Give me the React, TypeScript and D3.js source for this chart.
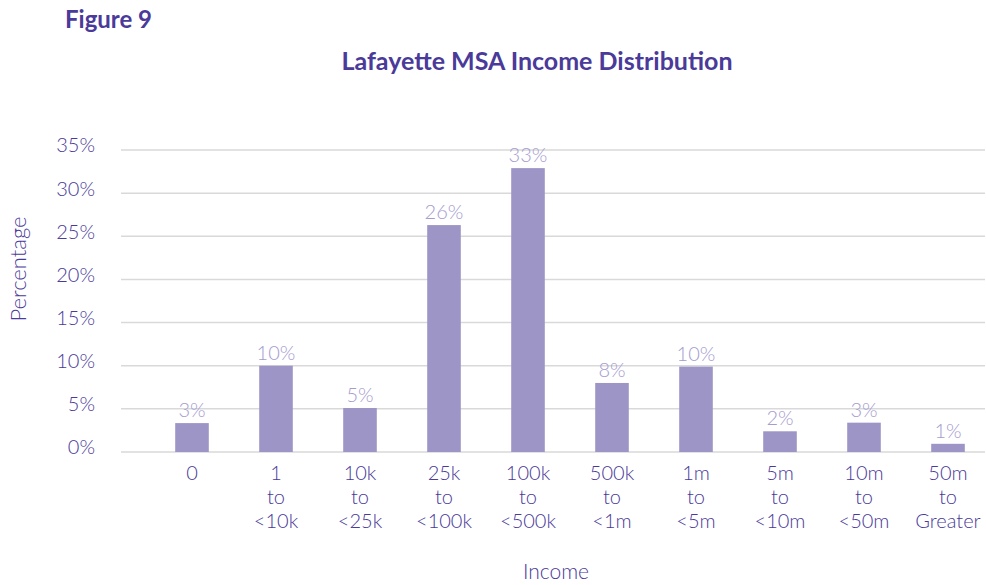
import React from "react";
import * as d3 from "d3";

const categories = ["0", "1 to <10k", "10k to <25k", "25k to <100k", "100k to <500k", "500k to <1m", "1m to <5m", "5m to <10m", "10m to <50m", "50m to Greater"];
const tickLines = [
  ["0"],
  ["1", "to", "<10k"],
  ["10k", "to", "<25k"],
  ["25k", "to", "<100k"],
  ["100k", "to", "<500k"],
  ["500k", "to", "<1m"],
  ["1m", "to", "<5m"],
  ["5m", "to", "<10m"],
  ["10m", "to", "<50m"],
  ["50m", "to", "Greater"],
];
const values = [3.35, 10.0, 5.1, 26.3, 32.9, 8.0, 9.9, 2.4, 3.4, 0.95];
const valueLabels = ["3%", "10%", "5%", "26%", "33%", "8%", "10%", "2%", "3%", "1%"];
const yTicks = [0, 5, 10, 15, 20, 25, 30, 35];

const W = 986;
const H = 585;
const FONT = "'Lato', 'DejaVu Sans', sans-serif";
const DARK = "#4a3a99";
const BAR = "#9e95c7";
const LABEL = "#a49ccf";
const GRID = "#d9d9d9";

export default function App() {
  const x = d3.scaleBand<string>().domain(categories).range([150, 990]).paddingInner(0.6).paddingOuter(0.3);
  const y = d3.scaleLinear().domain([0, 35]).range([452, 150]);
  const gridX0 = 121;
  const gridX1 = 985;
  const cx = (c: string) => (x(c) ?? 0) + x.bandwidth() / 2;

  return (
    <svg width={W} height={H} style={{ position: "absolute", left: 0, top: 0, background: "#fff" }} fontFamily={FONT}>
      <text x={65} y={28} fontSize={24} fontWeight={700} fill={DARK}>Figure 9</text>
      <text x={537} y={70} fontSize={25} fontWeight={700} fill={DARK} textAnchor="middle">Lafayette MSA Income Distribution</text>

      {/* grid + y ticks */}
      {yTicks.map((t) => (
        <g key={t}>
          <line x1={gridX0} x2={gridX1} y1={y(t)} y2={y(t)} stroke={GRID} strokeWidth={1.5} />
          <text x={95} y={y(t)} dy="0.12em" fontSize={20} fill={DARK} textAnchor="end" fontWeight={300}>{t}%</text>
        </g>
      ))}

      {/* bars */}
      {categories.map((c, i) => (
        <g key={c}>
          <rect x={x(c)} y={y(values[i])} width={x.bandwidth()} height={y(0) - y(values[i])} fill={BAR} />
          <text x={cx(c)} y={y(values[i]) - 6} fontSize={20} fill={LABEL} textAnchor="middle" fontWeight={300}>
            {valueLabels[i]}
          </text>
        </g>
      ))}

      {/* x tick labels */}
      {categories.map((c, i) => (
        <text key={c} fontSize={20} fill={DARK} textAnchor="middle" fontWeight={300}>
          {tickLines[i].map((l, j) => (
            <tspan key={j} x={cx(c)} y={480 + j * 24}>{l}</tspan>
          ))}
        </text>
      ))}

      <text x={556} y={579} fontSize={21} fill={DARK} textAnchor="middle" fontWeight={300}>Income</text>
      <text transform="translate(26,269) rotate(-90)" fontSize={22} fill={DARK} textAnchor="middle" fontWeight={300}>Percentage</text>
    </svg>
  );
}
